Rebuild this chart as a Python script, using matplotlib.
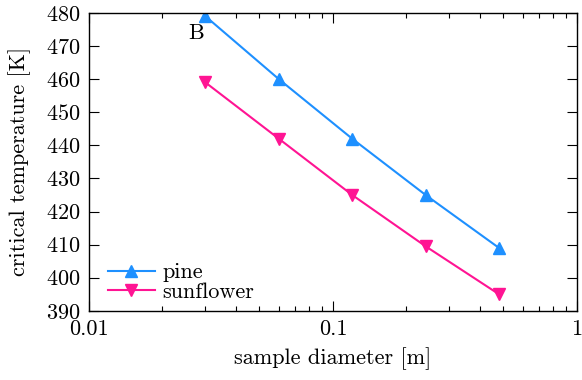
import matplotlib
matplotlib.use('Agg')
import matplotlib.pyplot as plt
from matplotlib.ticker import FixedLocator, FixedFormatter, LogLocator, NullFormatter

# Données
diametre = [0.03, 0.06, 0.12, 0.24, 0.48]
pin = [479, 460, 442, 425, 409]
tournesol = [459, 442, 425, 409.5, 395]

plt.rcParams['font.family'] = ['cmr10', 'DejaVu Serif']
plt.rcParams['axes.formatter.use_mathtext'] = True
plt.rcParams['font.size'] = 16

fig = plt.figure(figsize=(5.82, 3.8), dpi=100)
ax = fig.add_axes([0.153, 0.182, 0.838, 0.784])

ax.plot(diametre, pin, color='#1E90FF', lw=1.5, marker='^', ms=8, label='pine')
ax.plot(diametre, tournesol, color='#FF1493', lw=1.5, marker='v', ms=8, label='sunflower')

ax.set_xscale('log')
ax.set_xlim(0.01, 1)
ax.set_ylim(390, 480)
ax.set_yticks(range(390, 481, 10))
ax.xaxis.set_major_locator(FixedLocator([0.01, 0.1, 1]))
ax.xaxis.set_major_formatter(FixedFormatter(['0.01', '0.1', '1']))
ax.xaxis.set_minor_locator(LogLocator(base=10, subs=range(2, 10)))
ax.xaxis.set_minor_formatter(NullFormatter())

ax.tick_params(which='both', direction='in', top=True, right=True, width=0.8)
ax.tick_params(which='major', length=7, pad=6)
ax.tick_params(which='minor', length=3.5)
for s in ax.spines.values():
    s.set_linewidth(1.0)

ax.text(0.0275, 474, 'B', ha='center', va='center')

ax.set_xlabel('sample diameter [m]', labelpad=6)
ax.set_ylabel('critical temperature [K]', labelpad=11)

ax.legend(loc='lower left', bbox_to_anchor=(0.039, 0.03), frameon=False,
          handlelength=2.1, handletextpad=0.36, labelspacing=0.0,
          borderaxespad=0, borderpad=0, fontsize=16)

fig.savefig('out.png', dpi=100)
